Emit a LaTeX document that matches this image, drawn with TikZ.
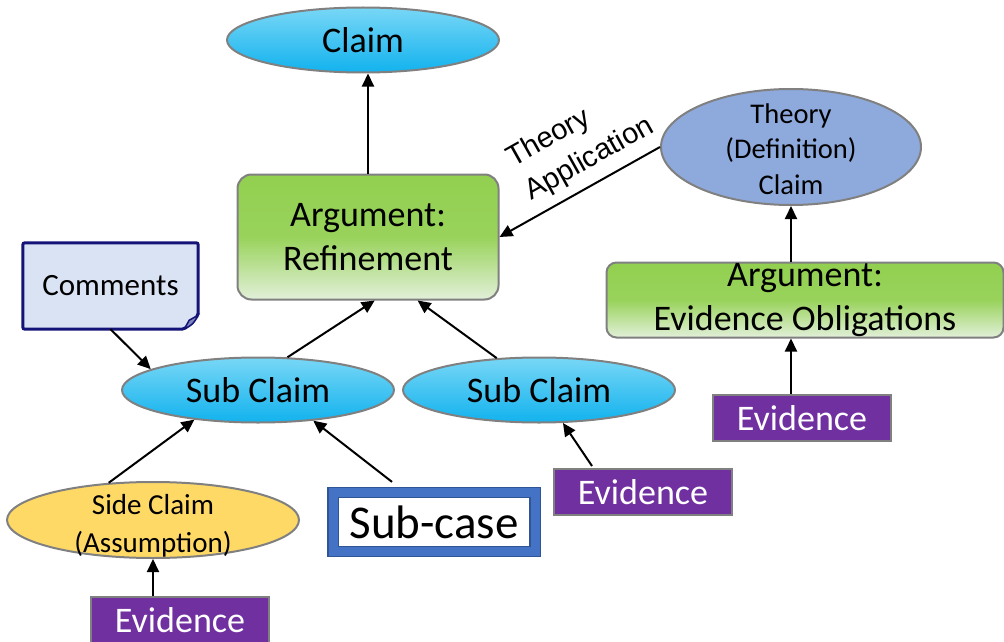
\documentclass[tikz,border=0pt]{standalone}
\usepackage{fontspec}
\setmainfont{Carlito}
\newfontfamily\arialfont{Liberation Sans}
\usetikzlibrary{positioning,calc,shapes.geometric,arrows.meta}

\definecolor{claimtop}{HTML}{78D7F6}
\definecolor{claimbot}{HTML}{12B2EE}
\definecolor{argtop}{HTML}{92D050}
\definecolor{argbot}{HTML}{E2F0D9}
\definecolor{edgegray}{HTML}{808080}
\definecolor{theoryblue}{HTML}{8EA9DB}
\definecolor{sideyellow}{HTML}{FFD966}
\definecolor{evpurple}{HTML}{7030A0}
\definecolor{notefill}{HTML}{DAE3F3}
\definecolor{notenavy}{HTML}{141478}
\definecolor{caseblue}{HTML}{4472C4}
\definecolor{casedark}{HTML}{2F5597}

\begin{document}
\begin{tikzpicture}[x=1pt,y=-1pt,>={Triangle[length=13pt,width=12pt]},
  every node/.style={inner sep=0pt},
  claimnode/.style={ellipse,draw=edgegray,line width=2pt,top color=claimtop,bottom color=claimbot,
    minimum width=272pt,minimum height=65pt,font=\fontsize{36}{44}\selectfont},
  argnode/.style={rectangle,rounded corners=14pt,draw=edgegray,line width=2pt,top color=argtop,
    bottom color=argbot,middle color=argtop!92!argbot,align=center,font=\fontsize{36}{44.5}\selectfont},
  evnode/.style={rectangle,draw=edgegray,line width=2pt,fill=evpurple,text=white,
    minimum width=178pt,minimum height=46pt,font=\fontsize{36}{44}\selectfont},
  smalltext/.style={align=center,font=\fontsize{28.5}{36}\selectfont},
  link/.style={->,line width=2pt}]
\useasboundingbox (0,0) rectangle (1004,642);

\node[claimnode] (claim) at (363,40) {Claim};
\node[argnode,minimum width=261pt,minimum height=125pt] (arg1) at (368,237) {Argument:\\Refinement};
\node[ellipse,draw=edgegray,line width=2pt,fill=theoryblue,minimum width=260pt,minimum height=116pt] (thy) at (791,147) {};
\node[smalltext,font=\fontsize{28.5}{35.5}\selectfont] (thytext) at (791,149) {Theory\\(Definition)\\Claim};
\node[argnode,rounded corners=10pt,minimum width=397pt,minimum height=75pt] (arg2) at (805,300) {Argument:\\Evidence Obligations};
\node[evnode] (ev3) at (802,418) {Evidence};

\node[rectangle,fill=notefill,minimum width=175pt,minimum height=86pt,font=\fontsize{31}{38}\selectfont] (cmt) at (110.5,286) {Comments};
\fill[white] ([xshift=-14pt]cmt.south east) -- (cmt.south east) -- ([yshift=14pt]cmt.south east) -- cycle;
\draw[notenavy,line width=3pt,rounded corners=2pt] (cmt.north west) -- (cmt.north east) -- ([yshift=14pt]cmt.south east)
  -- ([xshift=-14pt]cmt.south east) -- (cmt.south west) -- cycle;
\filldraw[draw=notenavy,fill=notefill!55!notenavy,line width=1.5pt] ([xshift=-14pt]cmt.south east)
  -- ([xshift=-9pt,yshift=9pt]cmt.south east) -- ([yshift=14pt]cmt.south east)
  .. controls ([xshift=-5pt,yshift=5pt]cmt.south east) .. ([xshift=-14pt]cmt.south east);

\node[claimnode] (sub1) at (258,390) {Sub Claim};
\node[claimnode] (sub2) at (539,390) {Sub Claim};
\node[ellipse,draw=edgegray,line width=2pt,fill=sideyellow,minimum width=292pt,minimum height=76pt] (side) at (153,520) {};
\node[smalltext,font=\fontsize{29}{38}\selectfont] (sidetext) at (153,526) {Side Claim\\(Assumption)};
\node[rectangle,fill=white,draw=casedark,line width=1.2pt,double=caseblue,double distance=9pt,
  minimum width=202pt,minimum height=59pt,font=\fontsize{47}{56}\selectfont] (subcase) at (434,522) {Sub-case};
\node[evnode] (ev2) at (643,492) {Evidence};
\node[evnode] (ev1) at (180,620) {Evidence};

\draw[link] (arg1.north) -- (arg1.north |- claim.south);
\draw[link] (thy.west) -- (arg1.east)
  node[pos=0.365,above,sloped,inner sep=9pt,align=left,font=\arialfont\fontsize{29}{38}\selectfont] (thylabel) {Theory\\Application};
\draw[link] (arg2.north -| thy.south) -- (thy.south);
\draw[link] (ev3.north -| thy.south) -- (arg2.south -| thy.south);
\draw[link] (sub1.48) -- (arg1.-84);
\draw[link] (sub2.143) -- (arg1.-52);
\draw[link] (cmt.south) -- (sub1.169);
\draw[link] (side.140) -- (sub1.205);
\draw[link] ($(subcase.north)+(-42,-10)$) -- (sub1.-29);
\draw[link] ($(ev2.north)+(-51,-2)$) -- (sub2.-54);
\draw[link] (ev1.north -| side.south) -- (side.south);
\end{tikzpicture}
\end{document}
